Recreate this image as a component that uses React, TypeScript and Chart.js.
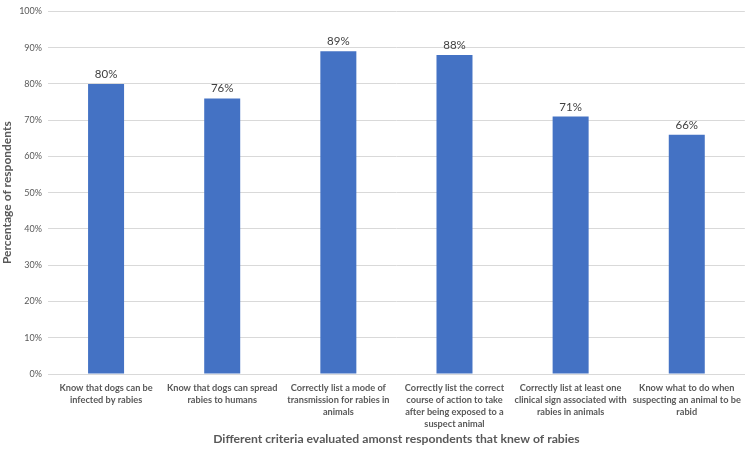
import React, { useEffect, useRef } from "react";
import { Chart, registerables } from "chart.js";

Chart.register(...registerables);

const categories: string[][] = [
  ["Know that dogs can be", "infected by rabies"],
  ["Know that dogs can spread", "rabies to humans"],
  ["Correctly list a mode of", "transmission for rabies in", "animals"],
  ["Correctly list the correct", "course of action to take", "after being exposed to a", "suspect animal"],
  ["Correctly list at least one", "clinical sign associated with", "rabies in animals"],
  ["Know what to do when", "suspecting an animal to be", "rabid"],
];
const values: number[] = [80, 76, 89, 88, 71, 66];
const yTitle = "Percentage of respondents";
const xTitle = "Different criteria evaluated amonst respondents that knew of rabies";

const FONT = "Lato, 'Open Sans', sans-serif";

const dataLabels = {
  id: "dataLabels",
  afterDatasetsDraw(chart: any) {
    const ctx = chart.ctx;
    const meta = chart.getDatasetMeta(0);
    ctx.save();
    ctx.font = `11.5px ${FONT}`;
    ctx.fillStyle = "#404040";
    ctx.textAlign = "center";
    ctx.textBaseline = "bottom";
    meta.data.forEach((bar: any, i: number) => {
      ctx.fillText(values[i] + "%", bar.x, bar.y - 4);
    });
    ctx.restore();
  },
};

export default function App() {
  const ref = useRef<HTMLCanvasElement>(null);
  useEffect(() => {
    document.body.style.margin = "0";
    const chart = new Chart(ref.current!, {
      type: "bar",
      data: {
        labels: categories,
        datasets: [
          {
            data: values,
            backgroundColor: "#4472C4",
            categoryPercentage: 1,
            barPercentage: 0.31,
          },
        ],
      },
      options: {
        animation: false,
        responsive: false,
        maintainAspectRatio: false,
        layout: { padding: { top: 7, right: 2, left: 0, bottom: 0 } },
        plugins: { legend: { display: false }, tooltip: { enabled: false } },
        scales: {
          y: {
            min: 0,
            max: 100,
            ticks: {
              stepSize: 10,
              callback: (v: any) => v + "%",
              color: "#595959",
              font: { family: FONT, size: 9 },
              padding: 6,
            },
            grid: { color: "#d9d9d9", drawTicks: false },
            border: { display: false },
            title: {
              display: true,
              text: yTitle,
              color: "#595959",
              font: { family: FONT, size: 12, weight: "bold" },
              padding: { top: 0, bottom: 2 },
            },
            afterFit: (s: any) => {
              s.width = 48;
            },
          },
          x: {
            ticks: {
              color: "#595959",
              font: { family: FONT, size: 9.2, weight: "bold", lineHeight: 1.3 },
              maxRotation: 0,
              autoSkip: false,
              padding: 8,
            },
            grid: { display: false, drawTicks: false },
            border: { color: "#d9d9d9" },
            title: {
              display: true,
              text: xTitle,
              color: "#595959",
              font: { family: FONT, size: 12.2, weight: "bold" },
              padding: { top: 2, bottom: 3 },
            },
            afterFit: (s: any) => {
              s.height = 75;
            },
          },
        },
      },
      plugins: [dataLabels],
    });
    return () => chart.destroy();
  }, []);
  return (
    <div style={{ position: "absolute", left: 0, top: 0, width: 749, height: 449 }}>
      <canvas ref={ref} width={749} height={449} />
    </div>
  );
}
